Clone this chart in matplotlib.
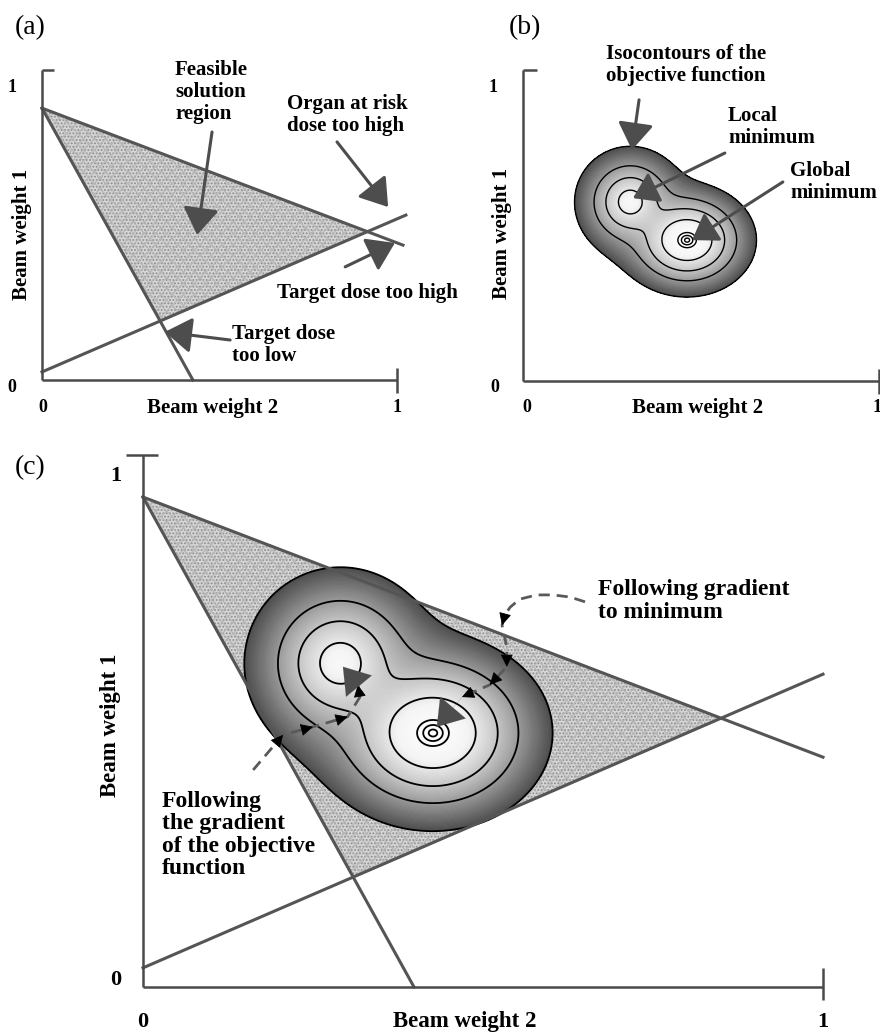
import numpy as np
import matplotlib.pyplot as plt
from matplotlib.colors import LinearSegmentedColormap
from matplotlib.patches import Polygon

plt.rcParams['font.family'] = ['Liberation Serif', 'DejaVu Serif']
plt.rcParams['hatch.linewidth'] = 0.9

# constraint lines, in axis units (x = beam weight 2, y = beam weight 1)
a_organ_line = [(0.0, 0.877), (1.017, 0.435)]   # organ at risk dose too high
a_low_line = [(0.0, 0.877), (0.425, 0.0)]       # target dose too low
a_high_line = [(0.0, 0.026), (1.025, 0.532)]    # target dose too high

c_organ_line = [(0.0, 0.921), (1.0, 0.432)]
c_low_line = [(0.0, 0.921), (0.3985, 0.0)]
c_high_line = [(0.0, 0.036), (1.0, 0.588)]

# minima of the objective function
b_global_min = (0.461, 0.453)
b_local_min = (0.301, 0.576)
c_global_min = (0.4265, 0.4774)
c_local_min = (0.290, 0.609)

# isocontour levels of the objective function
iso_levels = [3.5, 8, 13, 35, 53, 70, 98]

# gradient paths in panel (c)
path_left = [(0.162, 0.408), (0.206, 0.474), (0.25, 0.489), (0.301, 0.508),
             (0.319, 0.545), (0.316, 0.568), (0.294, 0.602)]
path_right = [(0.650, 0.724), (0.628, 0.733), (0.603, 0.737), (0.579, 0.737),
              (0.554, 0.729), (0.540, 0.714), (0.532, 0.699), (0.528, 0.680),
              (0.535, 0.639), (0.535, 0.602), (0.510, 0.568), (0.469, 0.545),
              (0.432, 0.489)]

tick_lo, tick_hi = '0', '1'
xlab = 'Beam weight 2'
ylab = 'Beam weight 1'

W, H = 880, 1033
fig = plt.figure(figsize=(8.8, 10.33), dpi=100)
LINE = '#555555'


def ftext(px, py, s, **kw):
    fig.text(px / W, 1 - py / H, s, **kw)


def panel(x0, y0, w, h):
    ax = fig.add_axes([x0 / W, 1 - y0 / H, w / W, h / H])
    ax.set_xlim(0, 1)
    ax.set_ylim(0, 1)
    ax.axis('off')
    return ax


def frame(ax, w, h, cap, up, dn):
    kw = dict(color='#4a4a4a', lw=1.8, clip_on=False, solid_capstyle='butt', zorder=7)
    ax.plot([0, 0], [0, 1], **kw)
    ax.plot([0, 1], [0, 0], **kw)
    ax.plot([cap[0] / w, cap[1] / w], [1, 1], **kw)
    ax.plot([1, 1], [-dn / h, up / h], **kw)


def intersect(l1, l2):
    (x1, y1), (x2, y2) = l1
    (x3, y3), (x4, y4) = l2
    d = (x1 - x2) * (y3 - y4) - (y1 - y2) * (x3 - x4)
    t = ((x1 - x3) * (y3 - y4) - (y1 - y3) * (x3 - x4)) / d
    return (x1 + t * (x2 - x1), y1 + t * (y2 - y1))


def constraints(ax, organ, low, high):
    pts = [organ[0], intersect(organ, high), intersect(low, high)]
    ax.add_patch(Polygon(pts, closed=True, facecolor='#d6d6d6', edgecolor='#8a8a8a',
                         hatch='.....', lw=0, zorder=1))
    ax.add_patch(Polygon(pts, closed=True, facecolor='none', edgecolor='#b8b8b8',
                         hatch='xxx', lw=0, zorder=1))
    for ln in (organ, low, high):
        ax.plot([ln[0][0], ln[1][0]], [ln[0][1], ln[1][1]], color=LINE, lw=2.2,
                clip_on=False, zorder=5)


cmap = LinearSegmentedColormap.from_list(
    'obj', [(0, '#ffffff'), (0.3, '#f4f4f4'), (0.54, '#c6c6c6'),
            (0.71, '#9c9c9c'), (1, '#4e4e4e')])


def objective(ax, gmin, lmin, w, h, s, lw):
    x = np.linspace(0, 1, 700)
    X, Y = np.meshgrid(x, x)
    gu = (X - gmin[0]) * w / s
    gv = (Y - gmin[1]) * h / s
    lu = (X - lmin[0]) * w / s
    lv = (Y - lmin[1]) * h / s
    dg = np.hypot(gu / 1.22, gv)
    dl = np.hypot(lu, lv) / 1.2 + 18.3
    k = 0.06
    F = -np.log(np.exp(-k * dg) + np.exp(-k * dl)) / k
    top = iso_levels[-1]
    ax.contourf(X, Y, F, levels=np.linspace(F.min() - 0.1, top, 90), cmap=cmap,
                vmin=0, vmax=top, zorder=2)
    ax.contour(X, Y, F, levels=iso_levels, colors='k', linewidths=lw, zorder=3)


def big_arrow(ax, start, tip, ms=22, lw=2.2):
    ax.annotate('', xy=tip, xytext=start, zorder=8,
                arrowprops=dict(arrowstyle='-|>,head_length=0.75,head_width=0.5',
                                color='#4d4d4d', lw=lw, mutation_scale=ms,
                                shrinkA=0, shrinkB=0))


def small_head(ax, p0, p1, color='k', ms=11):
    d = np.array(p1) - np.array(p0)
    d = d / np.hypot(*d) * 0.012
    ax.annotate('', xy=p1, xytext=tuple(np.array(p1) - d), zorder=8,
                arrowprops=dict(arrowstyle='-|>,head_length=0.7,head_width=0.35',
                                color=color, lw=0.6, mutation_scale=ms,
                                shrinkA=0, shrinkB=0))


bold = dict(fontweight='bold', fontsize=15)

# ---------------- panel (a) ----------------
axa = panel(42, 380, 355, 310)
constraints(axa, a_organ_line, a_low_line, a_high_line)
frame(axa, 355, 310, (0, 12), 12, 13)
big_arrow(axa, (0.479, 0.80), (0.437, 0.468))
big_arrow(axa, (0.831, 0.768), (0.975, 0.558))
big_arrow(axa, (0.854, 0.365), (0.994, 0.442))
big_arrow(axa, (0.530, 0.129), (0.346, 0.155))

ftext(30, 28, '(a)', fontsize=20, ha='center', va='center')
ftext(175, 92, 'Feasible\nsolution\nregion', ha='left', va='center', linespacing=1.15, **bold)
ftext(287, 115, 'Organ at risk\ndose too high', ha='left', va='center', linespacing=1.15, **bold)
ftext(277, 293, 'Target dose too high', ha='left', va='center', **bold)
ftext(232, 345, 'Target dose\ntoo low', ha='left', va='center', linespacing=1.15, **bold)
ftext(213, 408, xlab, ha='center', va='center', **bold)
ftext(22, 234, ylab, ha='center', va='center', rotation=90, **bold)
for px, py, s in [(12, 87, tick_hi), (12, 387, tick_lo), (43, 408, tick_lo), (397, 408, tick_hi)]:
    ftext(px, py, s, ha='center', va='center', fontsize=13, fontweight='bold')

# ---------------- panel (b) ----------------
axb = panel(523, 381, 356, 311)
objective(axb, b_global_min, b_local_min, 356, 311, 0.58, 1.0)
frame(axb, 356, 311, (0, 14), 12, 13)
big_arrow(axb, (0.326, 0.904), (0.306, 0.743))
big_arrow(axb, (0.567, 0.733), (0.309, 0.588), ms=20)
big_arrow(axb, (0.730, 0.640), (0.475, 0.453), ms=20)

ftext(525, 28, '(b)', fontsize=20, ha='center', va='center')
ftext(606, 65, 'Isocontours of the\nobjective function', ha='left', va='center', linespacing=1.15, **bold)
ftext(728, 127, 'Local\nminimum', ha='left', va='center', linespacing=1.15, **bold)
ftext(790, 182, 'Global\nminimum', ha='left', va='center', linespacing=1.15, **bold)
ftext(698, 408, xlab, ha='center', va='center', **bold)
ftext(502, 233, ylab, ha='center', va='center', rotation=90, **bold)
for px, py, s in [(493, 87, tick_hi), (495, 387, tick_lo), (527, 408, tick_lo), (877, 408, tick_hi)]:
    ftext(px, py, s, ha='center', va='center', fontsize=13, fontweight='bold')

# ---------------- panel (c) ----------------
axc = panel(143, 987, 680, 532)
constraints(axc, c_organ_line, c_low_line, c_high_line)
objective(axc, c_global_min, c_local_min, 680, 532, 1.0, 1.3)
frame(axc, 680, 532, (-17, 15), 19, 13)

for path, heads in [(path_left, [1, 2, 3, 5]), (path_right, [7, 9, 10, 11])]:
    xs, ys = zip(*path)
    axc.plot(xs[:-1], ys[:-1], color='#5a5a5a', lw=2.0, ls=(0, (4, 2.5)), zorder=6)
    for i in heads:
        small_head(axc, path[i - 1], path[i])
    big_arrow(axc, path[-2], path[-1], ms=24, lw=0.1)

ftext(30, 468, '(c)', fontsize=20, ha='center', va='center')
ftext(598, 601, 'Following gradient\nto minimum', ha='left', va='center',
      linespacing=1.1, fontsize=17, fontweight='bold')
ftext(162, 835, 'Following\nthe gradient\nof the objective\nfunction', ha='left', va='center',
      linespacing=1.1, fontsize=17, fontweight='bold')
ftext(465, 1022, xlab, ha='center', va='center', fontsize=16.5, fontweight='bold')
ftext(110, 725, ylab, ha='center', va='center', rotation=90, fontsize=16.5, fontweight='bold')
for px, py, s in [(116, 476, tick_hi), (116, 980, tick_lo), (143, 1022, tick_lo), (823, 1022, tick_hi)]:
    ftext(px, py, s, ha='center', va='center', fontsize=16, fontweight='bold')

fig.savefig('out.png', dpi=100)
